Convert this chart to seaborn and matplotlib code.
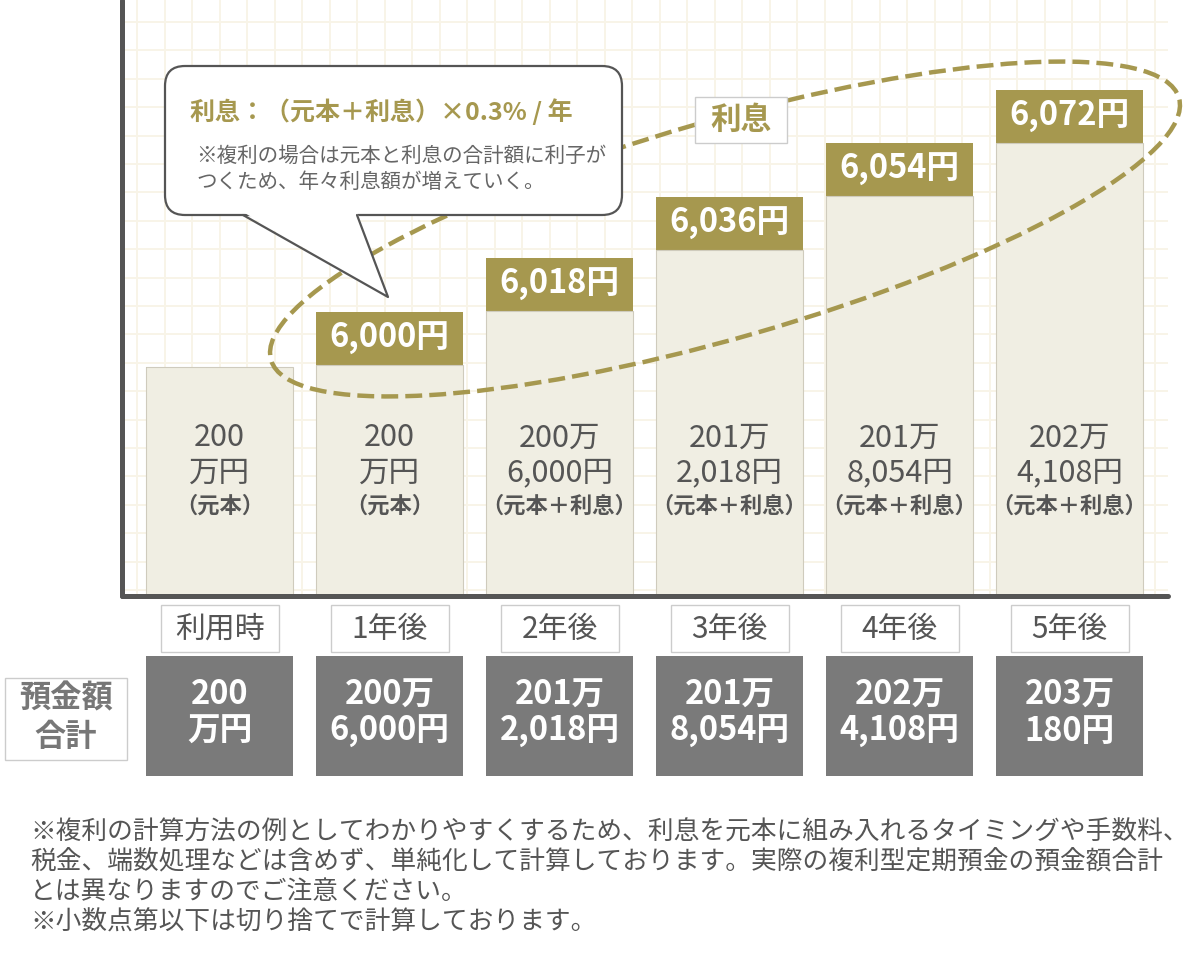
import matplotlib.pyplot as plt
import seaborn as sns
from matplotlib.patches import Ellipse, FancyBboxPatch, Rectangle, Polygon
from matplotlib.ticker import MultipleLocator
from matplotlib.transforms import blended_transform_factory

# -----------------------------
# DATA (bar heights are the illustrative heights as drawn, not to yen scale)
# -----------------------------
periods = ["利用時", "1年後", "2年後", "3年後", "4年後", "5年後"]
base_height = [229, 231, 285, 346, 400, 453]
interest_height = [0, 53, 53, 53, 53, 53]
interest_labels = ["", "6,000円", "6,018円", "6,036円", "6,054円", "6,072円"]
bar_amount_1 = ["200", "200", "200万", "201万", "201万", "202万"]
bar_amount_2 = ["万円", "万円", "6,000円", "2,018円", "8,054円", "4,108円"]
bar_note = ["（元本）", "（元本）", "（元本＋利息）", "（元本＋利息）", "（元本＋利息）", "（元本＋利息）"]
total_line_1 = ["200", "200万", "201万", "201万", "202万", "203万"]
total_line_2 = ["万円", "6,000円", "2,018円", "8,054円", "4,108円", "180円"]

callout_title = "利息：（元本＋利息）×0.3% / 年"
callout_lines = ["※複利の場合は元本と利息の合計額に利子が", "つくため、年々利息額が増えていく。"]
footnotes = [
    "※複利の計算方法の例としてわかりやすくするため、利息を元本に組み入れるタイミングや手数料、",
    "税金、端数処理などは含めず、単純化して計算しております。実際の複利型定期預金の預金額合計",
    "とは異なりますのでご注意ください。",
    "※小数点第以下は切り捨てで計算しております。",
]

total_height = [b + i for b, i in zip(base_height, interest_height)]

OLIVE = "#A6984F"
BASE = "#F0EEE3"
DARK = "#7A7A7A"
TEXT = "#555555"

sns.set_theme(style="white")
plt.rcParams["font.family"] = ["Noto Sans CJK JP", "DejaVu Sans"]

W, H = 1200, 956
fig = plt.figure(figsize=(12, 9.56), dpi=100)

# -----------------------------
# MAIN BAR AREA
# -----------------------------
ax = fig.add_axes([122 / W, 1 - 596 / H, (1168 - 122) / W, 596 / H])
sns.barplot(x=periods, y=total_height, color=OLIVE, saturation=1, width=0.86,
            errorbar=None, linewidth=0, ax=ax)
sns.barplot(x=periods, y=base_height, color=BASE, saturation=1, width=0.86,
            errorbar=None, edgecolor="#cfcbbd", linewidth=0.8, ax=ax)
ax.set_xlim(-0.574, 5.579)
ax.set_ylim(0, 596)

ax.xaxis.set_major_locator(MultipleLocator(27.5 / 170))
ax.yaxis.set_major_locator(MultipleLocator(28.4, offset=6))
ax.grid(True, color="#F8F4E8", linewidth=1.4)
ax.set_axisbelow(True)
ax.tick_params(labelbottom=False, labelleft=False, length=0)
ax.set_xlabel("")
ax.set_ylabel("")
for s in ["top", "right"]:
    ax.spines[s].set_visible(False)
for s in ["left", "bottom"]:
    ax.spines[s].set_color(TEXT)
    ax.spines[s].set_linewidth(3.6)
    ax.spines[s].set_capstyle("round")

for i, lab in enumerate(interest_labels):
    if lab:
        ax.text(i, base_height[i] + interest_height[i] / 2, lab, ha="center", va="center",
                color="white", fontsize=23.5, fontweight="bold")

# -----------------------------
# OVERLAY (pixel coordinates)
# -----------------------------
ov = fig.add_axes([0, 0, 1, 1], facecolor="none")
ov.set_xlim(0, W)
ov.set_ylim(H, 0)
ov.axis("off")
bt = blended_transform_factory(ax.transData, ov.transData)

# text inside the base bars
for i in range(len(periods)):
    ov.text(i, 438, bar_amount_1[i], transform=bt, ha="center", va="center",
            fontsize=22, color=TEXT)
    ov.text(i, 473, bar_amount_2[i], transform=bt, ha="center", va="center",
            fontsize=22, color=TEXT)
    ov.text(i, 506, bar_note[i], transform=bt, ha="center", va="center",
            fontsize=16, fontweight="bold", color=TEXT)

# period labels and total boxes
for i, p in enumerate(periods):
    ov.add_patch(Rectangle((i - 0.347, 605), 0.694, 47, transform=bt, facecolor="white",
                           edgecolor="#cccccc", linewidth=1, clip_on=False))
    ov.text(i, 629, p, transform=bt, ha="center", va="center", fontsize=21.5, color=TEXT)
    ov.add_patch(Rectangle((i - 0.43, 656), 0.86, 120, transform=bt, facecolor=DARK,
                           edgecolor="none", clip_on=False))
    ov.text(i, 695, total_line_1[i], transform=bt, ha="center", va="center",
            fontsize=23.5, fontweight="bold", color="white")
    ov.text(i, 731, total_line_2[i], transform=bt, ha="center", va="center",
            fontsize=23.5, fontweight="bold", color="white")

ov.add_patch(Rectangle((5, 678), 122, 82, facecolor="white", edgecolor="#cccccc", linewidth=1))
ov.text(66, 698, "預金額", ha="center", va="center", fontsize=22.5, fontweight="bold", color="#777777")
ov.text(66, 737, "合計", ha="center", va="center", fontsize=22.5, fontweight="bold", color="#777777")

# dashed ellipse around the interest
ov.add_patch(Ellipse((725, 229), 945, 217, angle=-16.1, fill=False, edgecolor=OLIVE,
                     linewidth=3.2, linestyle=(0, (3.8, 1.6)), zorder=2))
ov.add_patch(Rectangle((695, 97), 92, 46, facecolor="white", edgecolor="#cccccc",
                       linewidth=1, zorder=3))
ov.text(741, 120, "利息", ha="center", va="center", fontsize=22, fontweight="bold",
        color=OLIVE, zorder=4)

# speech bubble
ov.add_patch(FancyBboxPatch((165, 66), 457, 149, boxstyle="round,pad=0,rounding_size=20",
                            facecolor="white", edgecolor=TEXT, linewidth=1.6, zorder=3))
ov.add_patch(Polygon([(243, 212), (388, 297), (357, 212)], closed=True, facecolor="white",
                     edgecolor="none", zorder=4))
ov.plot([243, 388, 357], [215, 297, 215], color=TEXT, linewidth=1.6, zorder=5)
ov.text(190, 112, callout_title, ha="left", va="center", fontsize=18, fontweight="bold",
        color=OLIVE, zorder=5)
for k, line in enumerate(callout_lines):
    ov.text(196, 156 + k * 26, line, ha="left", va="center", fontsize=14.8, color="#666666", zorder=5)

# footnotes
for k, line in enumerate(footnotes):
    ov.text(30, 833 + k * 29.7, line, ha="left", va="center", fontsize=18.5, color=TEXT)

fig.savefig("out.png", dpi=100)
